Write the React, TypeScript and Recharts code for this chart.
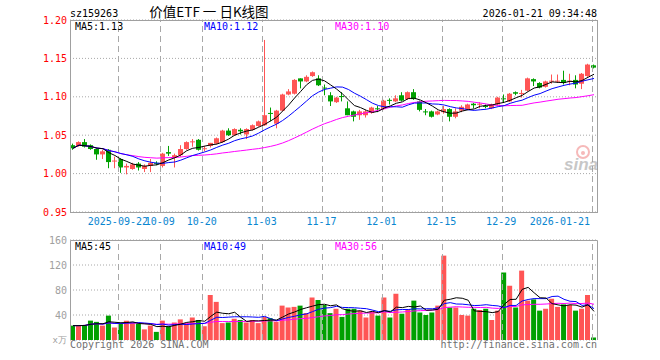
import { ComposedChart, Bar, Line, XAxis, YAxis, CartesianGrid, ReferenceLine, Cell } from 'recharts'

// trading days shown on the chart
const dates = [
  '2025-09-10', '2025-09-11', '2025-09-12', '2025-09-15', '2025-09-16', '2025-09-17', '2025-09-18', '2025-09-19',
  '2025-09-22', '2025-09-23', '2025-09-24', '2025-09-25', '2025-09-26', '2025-09-29', '2025-09-30',
  '2025-10-09', '2025-10-10', '2025-10-13', '2025-10-14', '2025-10-15', '2025-10-16', '2025-10-17',
  '2025-10-20', '2025-10-21', '2025-10-22', '2025-10-23', '2025-10-24', '2025-10-27', '2025-10-28', '2025-10-29', '2025-10-30', '2025-10-31',
  '2025-11-03', '2025-11-04', '2025-11-05', '2025-11-06', '2025-11-07', '2025-11-10', '2025-11-11', '2025-11-12', '2025-11-13', '2025-11-14',
  '2025-11-17', '2025-11-18', '2025-11-19', '2025-11-20', '2025-11-21', '2025-11-24', '2025-11-25', '2025-11-26', '2025-11-27', '2025-11-28',
  '2025-12-01', '2025-12-02', '2025-12-03', '2025-12-04', '2025-12-05', '2025-12-08', '2025-12-09', '2025-12-10', '2025-12-11', '2025-12-12',
  '2025-12-15', '2025-12-16', '2025-12-17', '2025-12-18', '2025-12-19', '2025-12-22', '2025-12-23', '2025-12-24', '2025-12-25', '2025-12-26',
  '2025-12-29', '2025-12-30', '2025-12-31', '2026-01-05', '2026-01-06', '2026-01-07', '2026-01-08', '2026-01-09',
  '2026-01-12', '2026-01-13', '2026-01-14', '2026-01-15', '2026-01-16', '2026-01-19', '2026-01-20', '2026-01-21',
]

const opens = [
  1.037, 1.036, 1.041, 1.037, 1.032, 1.025, 1.031, 1.016, 1.019, 1.008, 1.006, 1.013, 1.006, 1.010, 1.014,
  1.010, 1.028, 1.021, 1.024, 1.032, 1.041, 1.044, 1.032, 1.036, 1.039, 1.041, 1.056, 1.050, 1.057, 1.051, 1.057, 1.062,
  1.063, 1.079, 1.065, 1.082, 1.103, 1.104, 1.124, 1.120, 1.127, 1.124, 1.112, 1.102, 1.093, 1.101, 1.085, 1.081,
  1.076, 1.076, 1.079, 1.085, 1.084, 1.096, 1.094, 1.102, 1.097, 1.106, 1.094, 1.081, 1.081, 1.077, 1.080, 1.084,
  1.074, 1.082, 1.084, 1.091, 1.090, 1.088, 1.085, 1.090, 1.098, 1.094, 1.106, 1.104, 1.108, 1.123, 1.118, 1.113,
  1.120, 1.120, 1.122, 1.120, 1.122, 1.117, 1.127, 1.141,
]
const highs = [
  1.039, 1.042, 1.045, 1.038, 1.033, 1.031, 1.032, 1.022, 1.020, 1.013, 1.014, 1.015, 1.012, 1.019, 1.016,
  1.027, 1.036, 1.026, 1.037, 1.042, 1.045, 1.045, 1.036, 1.040, 1.047, 1.057, 1.059, 1.059, 1.059, 1.059, 1.064, 1.069,
  1.174, 1.086, 1.083, 1.104, 1.110, 1.123, 1.124, 1.128, 1.133, 1.128, 1.116, 1.106, 1.100, 1.106, 1.094, 1.082,
  1.083, 1.083, 1.087, 1.088, 1.096, 1.098, 1.102, 1.106, 1.107, 1.110, 1.095, 1.084, 1.082, 1.082, 1.088, 1.085,
  1.085, 1.089, 1.091, 1.092, 1.093, 1.090, 1.091, 1.100, 1.103, 1.105, 1.107, 1.109, 1.125, 1.124, 1.119, 1.121,
  1.129, 1.129, 1.134, 1.130, 1.128, 1.131, 1.143, 1.142,
]
const lows = [
  1.031, 1.035, 1.034, 1.031, 1.018, 1.019, 1.007, 1.007, 1.001, 0.999, 1.005, 1.004, 1.002, 1.002, 1.011,
  1.008, 1.023, 1.008, 1.022, 1.031, 1.035, 1.030, 1.029, 1.034, 1.038, 1.040, 1.049, 1.049, 1.051, 1.045, 1.056, 1.061,
  1.062, 1.068, 1.059, 1.081, 1.102, 1.103, 1.111, 1.119, 1.126, 1.114, 1.102, 1.088, 1.092, 1.094, 1.076, 1.068,
  1.070, 1.073, 1.078, 1.080, 1.083, 1.090, 1.093, 1.094, 1.096, 1.096, 1.081, 1.076, 1.073, 1.076, 1.078, 1.068,
  1.072, 1.080, 1.083, 1.085, 1.085, 1.085, 1.084, 1.089, 1.092, 1.093, 1.102, 1.099, 1.107, 1.114, 1.111, 1.112,
  1.117, 1.118, 1.116, 1.115, 1.111, 1.110, 1.126, 1.137,
]
const closes = [
  1.033, 1.041, 1.035, 1.032, 1.025, 1.029, 1.015, 1.017, 1.008, 1.010, 1.012, 1.008, 1.010, 1.014, 1.013,
  1.026, 1.026, 1.024, 1.032, 1.041, 1.042, 1.031, 1.033, 1.040, 1.046, 1.056, 1.050, 1.058, 1.055, 1.058, 1.063, 1.068,
  1.076, 1.078, 1.082, 1.103, 1.107, 1.122, 1.120, 1.126, 1.132, 1.115, 1.111, 1.094, 1.099, 1.100, 1.076, 1.074,
  1.081, 1.081, 1.086, 1.084, 1.095, 1.095, 1.098, 1.095, 1.106, 1.097, 1.083, 1.080, 1.074, 1.081, 1.084, 1.074,
  1.081, 1.087, 1.090, 1.089, 1.091, 1.087, 1.090, 1.099, 1.097, 1.104, 1.104, 1.105, 1.124, 1.120, 1.112, 1.120,
  1.121, 1.121, 1.118, 1.121, 1.116, 1.130, 1.142, 1.138,
]
// volume, 万股
const volumes = [
  23, 23, 24, 31, 29, 23, 39, 20, 27, 31, 28, 26, 17, 23, 13,
  31, 22, 28, 33, 27, 36, 32, 22, 72, 61, 27, 28, 34, 32, 28, 32, 27,
  37, 35, 29, 55, 52, 53, 55, 43, 68, 64, 56, 43, 50, 37, 50, 50,
  47, 36, 46, 39, 68, 36, 74, 42, 49, 63, 44, 40, 44, 55, 135, 52,
  52, 40, 39, 50, 48, 50, 32, 47, 108, 87, 52, 111, 63, 65, 47, 50,
  66, 53, 57, 56, 47, 50, 72, 4,
]

const priceTicks = [0.95, 1.0, 1.05, 1.1, 1.15, 1.2]
const volTicks = [0, 40, 80, 120, 160]
const dateTicks = ['2025-09-22', '2025-10-09', '2025-10-20', '2025-11-03', '2025-11-17', '2025-12-01', '2025-12-15', '2025-12-29', '2026-01-21']
const dateTickLabels = ['2025-09-22', '10-09', '10-20', '11-03', '11-17', '12-01', '12-15', '12-29', '2026-01-21']

const RED = '#ff5555'
const GREEN = '#00a000'
const MONO = '"DejaVu Sans Mono", monospace'
const GRID = '#a8a8a8'

const movingAvg = (src: number[], n: number) =>
  src.map((_, i) => {
    const part = src.slice(Math.max(0, i - n + 1), i + 1)
    return part.reduce((a, b) => a + b, 0) / part.length
  })

const ma5 = movingAvg(closes, 5)
const ma10 = movingAvg(closes, 10)
const ma30 = movingAvg(closes, 30)
const vma5 = movingAvg(volumes, 5)
const vma10 = movingAvg(volumes, 10)
const vma30 = movingAvg(volumes, 30)

const rows = dates.map((d, i) => ({
  d,
  o: opens[i],
  h: highs[i],
  l: lows[i],
  c: closes[i],
  range: [lows[i], highs[i]],
  v: volumes[i],
  ma5: ma5[i],
  ma10: ma10[i],
  ma30: ma30[i],
  vma5: vma5[i],
  vma10: vma10[i],
  vma30: vma30[i],
}))

const Candle = (props: any) => {
  const { x, y, width, height, payload } = props
  const { o, h, l, c } = payload
  const top = Math.min(y, y + height)
  const hgt = Math.abs(height)
  const toY = (v: number) => top + ((h - v) / (h - l)) * hgt
  const color = c >= o ? RED : GREEN
  const cx = Math.floor(x + width / 2) + 0.5
  const b1 = toY(Math.max(o, c))
  const b2 = toY(Math.min(o, c))
  return (
    <g>
      <line x1={cx} x2={cx} y1={top} y2={top + hgt} stroke={color} strokeWidth={1} />
      <rect x={cx - 2.5} y={b1} width={5} height={Math.max(1, b2 - b1)} fill={color} />
    </g>
  )
}

const PriceTick = ({ y, payload }: any) => (
  <text x={67} y={y} textAnchor="end" dominantBaseline="central" fill="#ff0000" fontSize={10} fontFamily={MONO}>
    {payload.value.toFixed(2)}
  </text>
)

const VolTick = ({ y, payload }: any) => (
  <text x={67} y={y} textAnchor="end" dominantBaseline="central" fill="#a0a0a0" fontSize={payload.value === 0 ? 9 : 10} fontFamily={MONO}>
    {payload.value === 0 ? 'x万' : payload.value}
  </text>
)

const DateTick = ({ x, payload }: any) => {
  const i = dateTicks.indexOf(payload.value)
  const last = i === dateTicks.length - 1
  return (
    <text x={last ? x - 4 : x - 3} y={225} textAnchor={last ? 'end' : 'middle'} fill="#0a86d0" fontSize={10} fontFamily={MONO}>
      {dateTickLabels[i]}
    </text>
  )
}

const GridLine = (p: any) => {
  const gx = Math.round(p.x1 - 2.5) + 0.5
  return <line x1={gx} x2={gx} y1={p.y1} y2={p.y2} stroke={GRID} strokeWidth={1} strokeDasharray="6 4" />
}

export default function App() {
  return (
    <div style={{ position: 'absolute', left: 0, top: 0, width: 660, height: 360, background: '#fff', overflow: 'hidden' }}>
      <div style={{ position: 'absolute', left: 0, top: 0 }}>
        <ComposedChart width={660} height={236} data={rows} margin={{ top: 20, right: 63, bottom: 0, left: 0 }}>
          <CartesianGrid horizontal vertical={false} stroke={GRID} strokeDasharray="1 2" />
          <XAxis dataKey="d" ticks={dateTicks} interval={0} height={24} tick={<DateTick />} tickLine={false} axisLine={false} />
          <YAxis width={70} domain={[0.95, 1.2]} ticks={priceTicks} interval={0} allowDataOverflow tick={<PriceTick />} tickLine={false} axisLine={false} />
          {dateTicks.map((t) => (
            <ReferenceLine key={t} x={t} shape={GridLine} />
          ))}
          <Bar dataKey="range" barSize={5} shape={<Candle />} isAnimationActive={false} />
          <Line dataKey="ma30" stroke="#ff00ff" strokeWidth={1} dot={false} isAnimationActive={false} />
          <Line dataKey="ma10" stroke="#0000ff" strokeWidth={1} dot={false} isAnimationActive={false} />
          <Line dataKey="ma5" stroke="#000000" strokeWidth={1} dot={false} isAnimationActive={false} />
        </ComposedChart>
      </div>
      <div style={{ position: 'absolute', left: 0, top: 235 }}>
        <ComposedChart width={660} height={110} data={rows} margin={{ top: 5, right: 63, bottom: 5, left: 0 }}>
          <CartesianGrid horizontal vertical={false} stroke={GRID} strokeDasharray="1 2" />
          <XAxis dataKey="d" hide />
          <YAxis width={70} domain={[0, 160]} ticks={volTicks} interval={0} allowDataOverflow tick={<VolTick />} tickLine={false} axisLine={false} />
          {dateTicks.map((t) => (
            <ReferenceLine key={t} x={t} shape={GridLine} />
          ))}
          <Bar dataKey="v" barSize={5} isAnimationActive={false}>
            {rows.map((r) => (
              <Cell key={r.d} fill={r.c >= r.o ? RED : GREEN} />
            ))}
          </Bar>
          <Line dataKey="vma30" stroke="#ff00ff" strokeWidth={1} dot={false} isAnimationActive={false} />
          <Line dataKey="vma10" stroke="#0000ff" strokeWidth={1} dot={false} isAnimationActive={false} />
          <Line dataKey="vma5" stroke="#000000" strokeWidth={1} dot={false} isAnimationActive={false} />
        </ComposedChart>
      </div>
      <svg width={660} height={360} style={{ position: 'absolute', left: 0, top: 0, pointerEvents: 'none' }}>
        <text x={70} y={16.5} fontSize={10} fontFamily={MONO} fill="#000">sz159263</text>
        <text x={209} y={17} textAnchor="middle" fontSize={13.5} fontFamily='"Noto Sans CJK SC", sans-serif' fill="#000">价值ETF 一 日K线图</text>
        <text x={597} y={16.5} textAnchor="end" fontSize={10} fontFamily={MONO} fill="#000">2026-01-21 09:34:48</text>

        <rect x={70.5} y={20.5} width={527} height={192} fill="none" stroke="#a0a0a0" strokeWidth={1} />
        <text x={75} y={29.5} fontSize={10} fontFamily={MONO} fill="#000">MA5:1.13</text>
        <text x={204} y={29.5} fontSize={10} fontFamily={MONO} fill="#0000ff">MA10:1.12</text>
        <text x={335} y={29.5} fontSize={10} fontFamily={MONO} fill="#ff00ff">MA30:1.10</text>

        <g opacity={0.55}>
          <circle cx={583} cy={152} r={6} fill="none" stroke="#f08080" strokeWidth={2} />
          <circle cx={583} cy={153} r={2} fill="#f08080" />
          <text x={581} y={170} textAnchor="middle" fontSize={17} fontStyle="italic" fontWeight="bold" fontFamily="Liberation Sans, sans-serif" fill="#9a9a9a">sina</text>
        </g>

        <polyline points="70.5,340 70.5,240.5 597.5,240.5 597.5,340" fill="none" stroke="#a0a0a0" strokeWidth={1} />
        <text x={75} y={249.5} fontSize={10} fontFamily={MONO} fill="#000">MA5:45</text>
        <text x={204} y={249.5} fontSize={10} fontFamily={MONO} fill="#0000ff">MA10:49</text>
        <text x={335} y={249.5} fontSize={10} fontFamily={MONO} fill="#ff00ff">MA30:56</text>

        <text x={70} y={348} fontSize={10} fontFamily={MONO} fill="#707070">Copyright 2026 SINA.COM</text>
        <text x={597} y={348} textAnchor="end" fontSize={10} fontFamily={MONO} fill="#707070">http://finance.sina.com.cn</text>
      </svg>
    </div>
  )
}
